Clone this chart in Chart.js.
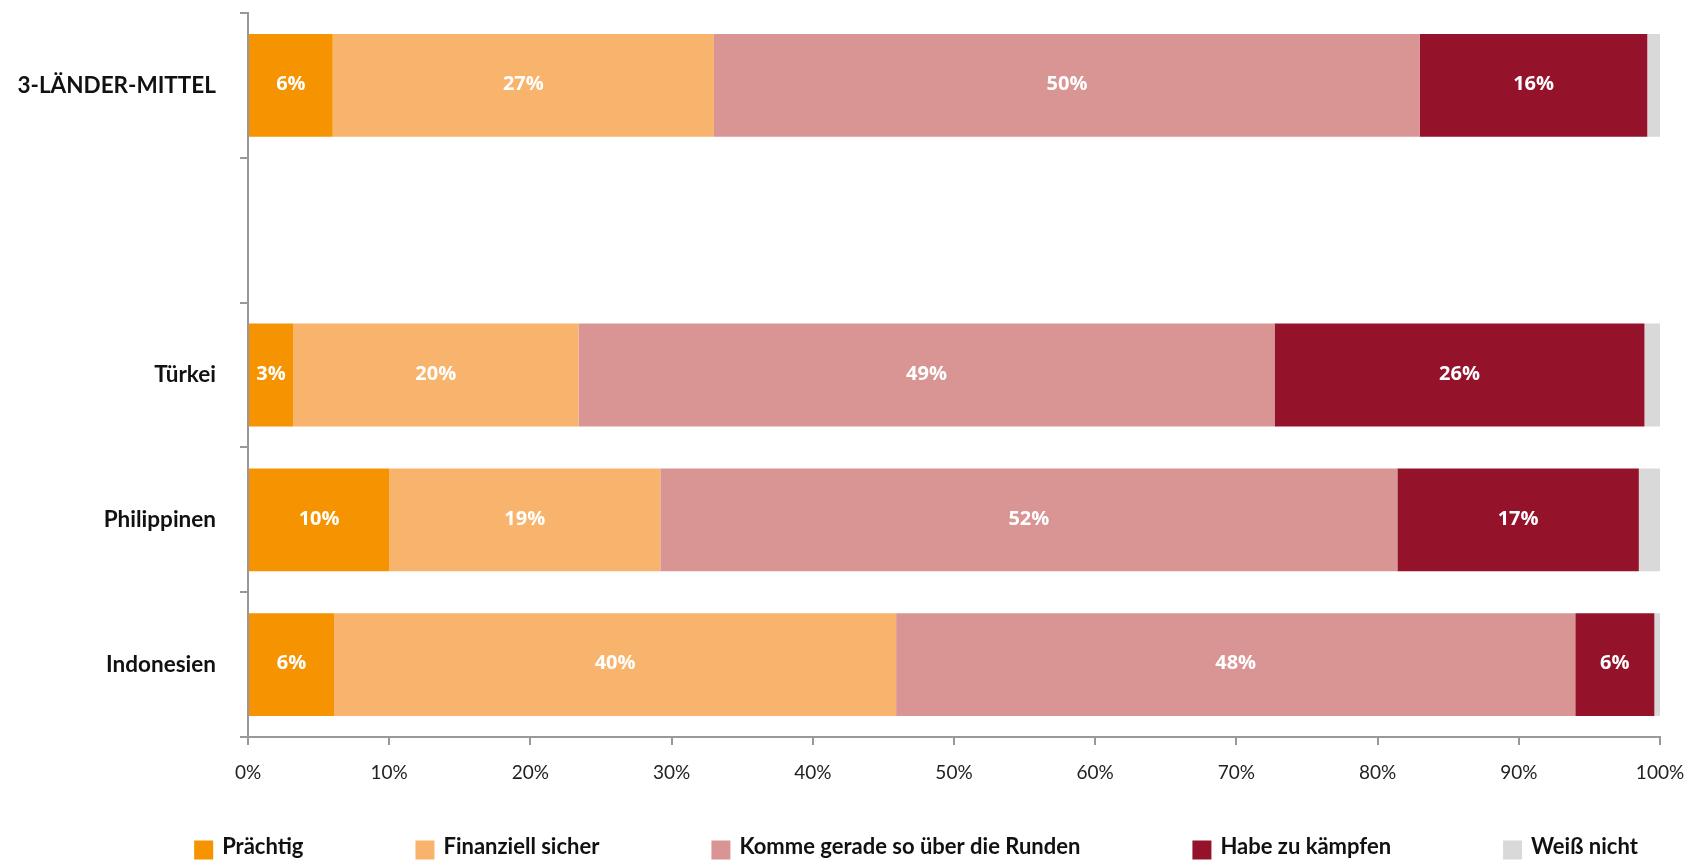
<!DOCTYPE html>
<html lang="de">
<head>
    <meta charset="UTF-8">
    <title>Finanzielle Lage</title>
    <script src="https://cdn.jsdelivr.net/npm/chart.js"></script>
    <style>
        html, body { margin: 0; padding: 0; background: #fff; }
        .wrap { width: 1693px; height: 864px; }
    </style>
</head>
<body>
    <div class="wrap"><canvas id="chart"></canvas></div>

    <script>
        const categories = ['3-LÄNDER-MITTEL', '', 'Türkei', 'Philippinen', 'Indonesien'];
        const seriesNames = ['Prächtig', 'Finanziell sicher', 'Komme gerade so über die Runden', 'Habe zu kämpfen', 'Weiß nicht'];
        const praechtig   = [6.0, null, 3.2, 10.0, 6.1];
        const sicher      = [27.0, null, 20.2, 19.2, 39.8];
        const komme       = [50.0, null, 49.3, 52.2, 48.1];
        const kaempfen    = [16.1, null, 26.2, 17.1, 5.6];
        const weissNicht  = [0.9, null, 1.1, 1.5, 0.4];
        const xTicks = [0, 10, 20, 30, 40, 50, 60, 70, 80, 90, 100];

        const colors = ['#F59300', '#F8B46C', '#D99594', '#94132A', '#D9D9D9'];
        const fontFamily = 'Lato, "Open Sans", sans-serif';

        // white value labels inside the segments (not for "Weiß nicht")
        const valueLabels = {
            id: 'valueLabels',
            afterDatasetsDraw(chart) {
                const ctx = chart.ctx;
                ctx.save();
                ctx.fillStyle = '#fff';
                ctx.font = 'bold 20px "Open Sans", sans-serif';
                ctx.textAlign = 'center';
                ctx.textBaseline = 'middle';
                chart.data.datasets.forEach((ds, i) => {
                    if (i === 4) return;
                    chart.getDatasetMeta(i).data.forEach((bar, j) => {
                        const v = ds.data[j];
                        if (v == null) return;
                        ctx.fillText(Math.round(v) + '%', (bar.x + bar.base) / 2, bar.y - 1);
                    });
                });
                ctx.restore();
            }
        };

        // legend drawn at the bottom with wide gaps between entries
        const bottomLegend = {
            id: 'bottomLegend',
            afterDraw(chart) {
                const ctx = chart.ctx;
                const box = 19, gapText = 9, gapItem = 112;
                ctx.save();
                ctx.font = 'bold 22px ' + fontFamily;
                const widths = seriesNames.map(n => box + gapText + ctx.measureText(n).width);
                const total = widths.reduce((a, b) => a + b, 0) + gapItem * (widths.length - 1);
                const ca = chart.chartArea;
                let x = (ca.left + ca.right) / 2 - 38 - total / 2;
                const y = 850;
                ctx.textBaseline = 'middle';
                seriesNames.forEach((n, i) => {
                    ctx.fillStyle = colors[i];
                    ctx.fillRect(x, y - box / 2, box, box);
                    ctx.fillStyle = '#111';
                    ctx.fillText(n, x + box + gapText, y - 3);
                    x += widths[i] + gapItem;
                });
                ctx.restore();
            }
        };

        const seriesData = [praechtig, sicher, komme, kaempfen, weissNicht];

        new Chart(document.getElementById('chart'), {
            type: 'bar',
            data: {
                labels: categories,
                datasets: seriesData.map((d, i) => ({
                    label: seriesNames[i],
                    data: d,
                    backgroundColor: colors[i],
                    borderWidth: 0,
                    categoryPercentage: 1,
                    barPercentage: 0.71
                }))
            },
            options: {
                indexAxis: 'y',
                responsive: true,
                maintainAspectRatio: false,
                animation: false,
                layout: { padding: { top: 13, right: 33, bottom: 0, left: 0 } },
                plugins: {
                    legend: { display: false },
                    tooltip: { enabled: false }
                },
                scales: {
                    x: {
                        stacked: true,
                        min: 0,
                        max: 100,
                        afterBuildTicks(scale) {
                            scale.ticks = xTicks.map(v => ({ value: v }));
                        },
                        afterFit(scale) {
                            scale.height = 127;
                            scale.paddingLeft = 0;
                            scale.paddingRight = 0;
                        },
                        border: { color: '#999', width: 2 },
                        grid: { drawOnChartArea: false, tickLength: 8, color: '#999', lineWidth: 2 },
                        ticks: {
                            padding: 16,
                            color: '#222',
                            font: { family: fontFamily, size: 19 },
                            callback: v => v + '%'
                        }
                    },
                    y: {
                        stacked: true,
                        afterFit(scale) {
                            scale.width = 248;
                            scale.paddingTop = 0;
                            scale.paddingBottom = 0;
                        },
                        border: { color: '#999', width: 2 },
                        grid: { drawOnChartArea: false, offset: true, tickLength: 8, color: '#999', lineWidth: 2 },
                        ticks: {
                            padding: 24,
                            color: '#111',
                            font: { family: fontFamily, size: 22.5, weight: 'bold' }
                        }
                    }
                }
            },
            plugins: [valueLabels, bottomLegend]
        });
    </script>
</body>
</html>
